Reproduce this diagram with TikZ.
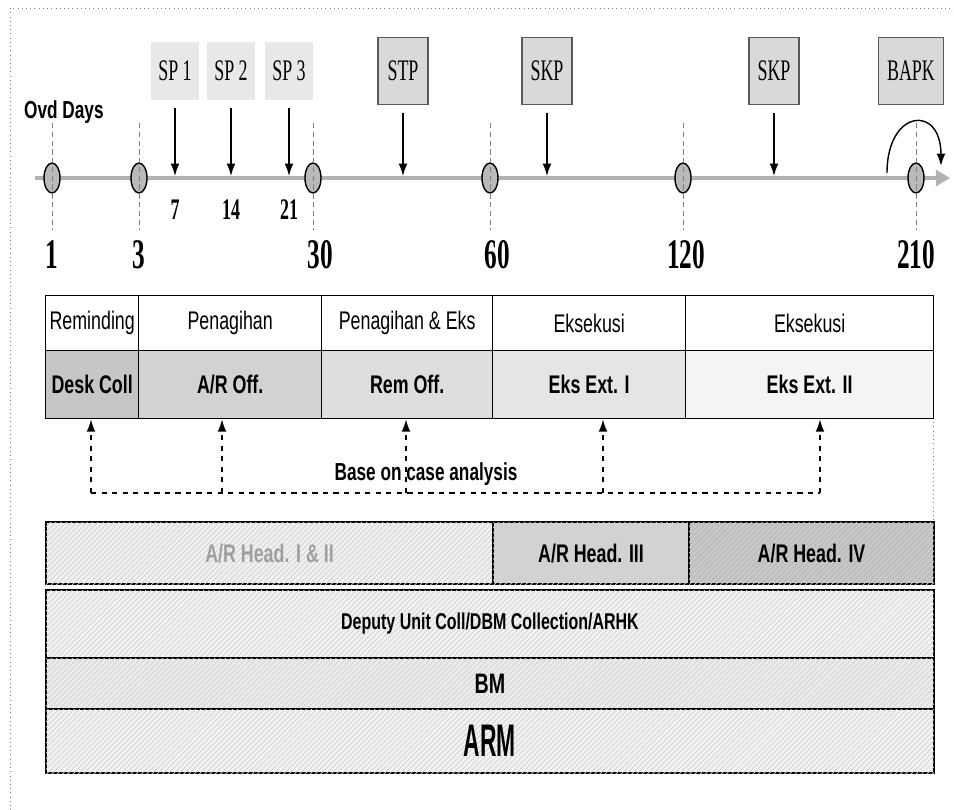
\documentclass[tikz,border=0pt]{standalone}
\usepackage{fontspec}
\setmainfont{Liberation Serif}
\setsansfont{Liberation Sans}
\newfontfamily\narrowsans[FakeStretch=0.7]{Liberation Sans}
\newfontfamily\narrowserif[FakeStretch=0.6]{Liberation Serif}
\usetikzlibrary{positioning,arrows.meta,shapes.geometric,patterns}

\begin{document}
\begin{tikzpicture}[
    x=0.02cm, y=-0.02cm,
    node distance=4mm,
    daydot/.style={ellipse, draw, thick, fill=gray!55, minimum width=0.32cm, minimum height=0.6cm, inner sep=0},
    guide/.style={densely dashed, gray},
    axis/.style={line width=2.8pt, gray!60, -{Triangle[length=8pt,width=9pt]}},
    letterbox/.style={fill=gray!18, minimum width=0.96cm, minimum height=1.16cm, inner sep=0, font=\narrowserif\fontsize{17}{20}\selectfont},
    noticebox/.style={letterbox, fill=gray!30, draw=gray!70!black, thick, minimum width=1cm, minimum height=1.34cm},
    pointer/.style={-{Latex[length=7pt,width=5pt]}, thick, shorten <=0.16cm},
    daynum/.style={font=\narrowserif\bfseries\fontsize{24}{28}\selectfont},
    smallnum/.style={font=\narrowserif\bfseries\fontsize{17}{20}\selectfont},
    cell/.style={draw, thick, anchor=north west, inner sep=0},
    headcell/.style={cell, minimum height=1.1cm, font=\narrowsans\fontsize{14.5}{16}\selectfont},
    staffcell/.style={cell, minimum height=1.36cm, font=\narrowsans\bfseries\fontsize{14.5}{16}\selectfont},
    barcell/.style={cell, very thick, font=\narrowsans\bfseries\fontsize{14.5}{16}\selectfont,
        postaction={pattern=north east lines, pattern color=gray!35}},
    caseline/.style={dashed, thick},
]

\useasboundingbox (0,0) rectangle (954,810);

% Page frame
\draw[dotted, gray] (10,810) -- (10,8) -- (954,8);
\draw[dotted, gray] (933,418) -- (933,520);

% Time axis
\coordinate (S) at (35,178);
\coordinate (E) at (950,178);
\draw[axis] (S) -- (E);

\node[font=\narrowsans\bfseries\fontsize{14}{16}\selectfont, anchor=west] (OVD) at (18,112) {Ovd Days};

% Day marks
\node[daydot] (D1) at (52,178) {};
\node[daydot] (D3) at (139,178) {};
\node[daydot] (D30) at (313,178) {};
\node[daydot] (D60) at (490,178) {};
\node[daydot] (D120) at (683,178) {};
\node[daydot] (D210) at (916,178) {};

\foreach \d in {D1,D3,D30,D60,D120,D210}
    \draw[guide] ([yshift=1.1cm]\d.center) -- ([yshift=-1.05cm]\d.center);

\node[daynum] (N1) at (52,255) {1};
\node[daynum] (N3) at (139,255) {3};
\node[daynum] (N30) at (320,255) {30};
\node[daynum] (N60) at (497,255) {60};
\node[daynum] (N120) at (686,255) {120};
\node[daynum] (N210) at (916,255) {210};

% Letters and notices
\node[letterbox] (SP1) at (175,71) {SP 1};
\node[letterbox] (SP2) at (231,71) {SP 2};
\node[letterbox] (SP3) at (289,71) {SP 3};
\node[noticebox] (STP) at (403,71) {STP};
\node[noticebox] (SKPa) at (547,71) {SKP};
\node[noticebox] (SKPb) at (774,71) {SKP};
\node[noticebox, minimum width=1.3cm] (BAPK) at (911,71) {BAPK};

\coordinate (A7) at (175,176);
\coordinate (A14) at (231,176);
\coordinate (A21) at (289,176);
\coordinate (ASTP) at (403,176);
\coordinate (ASKPa) at (547,176);
\coordinate (ASKPb) at (774,176);

\draw[pointer] (SP1) -- (A7);
\draw[pointer] (SP2) -- (A14);
\draw[pointer] (SP3) -- (A21);
\draw[pointer] (STP) -- (ASTP);
\draw[pointer] (SKPa) -- (ASKPa);
\draw[pointer] (SKPb) -- (ASKPb);

\node[smallnum, below=3.5mm of A7] (N7) {7};
\node[smallnum, below=3.5mm of A14] (N14) {14};
\node[smallnum, below=3.5mm of A21] (N21) {21};

% Loop at 210
\coordinate (La) at (887,173);
\coordinate (Lb) at (941,166);
\draw[-{Latex[length=7pt,width=5pt]}, thick] (La) .. controls +(0,-64) and +(0,-62) .. (Lb);

% Stage row
\node[headcell, minimum width=1.86cm] (H1) at (45,295) {Reminding};
\node[headcell, minimum width=3.66cm] (H2) at (138,295) {Penagihan};
\node[headcell, minimum width=3.42cm] (H3) at (321,295) {Penagihan \& Eks};
\node[headcell, minimum width=3.86cm] (H4) at (492,295) {Eksekusi};
\node[headcell, minimum width=4.96cm] (H5) at (685,295) {Eksekusi};

% Staff row
\node[staffcell, fill=gray!45, minimum width=1.86cm] (C1) at (45,350) {Desk Coll};
\node[staffcell, fill=gray!35, minimum width=3.66cm] (C2) at (138,350) {A/R Off.};
\node[staffcell, fill=gray!26, minimum width=3.42cm] (C3) at (321,350) {Rem Off.};
\node[staffcell, fill=gray!20, minimum width=3.86cm] (C4) at (492,350) {Eks Ext. I};
\node[staffcell, fill=gray!9, minimum width=4.96cm] (C5) at (685,350) {Eks Ext. II};

% Case analysis
\coordinate (B1) at (91,493);
\coordinate (B2) at (222,493);
\coordinate (B3) at (406,493);
\coordinate (B4) at (603,493);
\coordinate (B5) at (820,493);
\draw[caseline] (B1) -- (B5);
\draw[caseline, -{Latex[length=7pt,width=5pt]}] (B1) -- (B1 |- C1.south);
\draw[caseline, -{Latex[length=7pt,width=5pt]}] (B2) -- (B2 |- C2.south);
\draw[caseline, -{Latex[length=7pt,width=5pt]}] (B3) -- (B3 |- C3.south);
\draw[caseline, -{Latex[length=7pt,width=5pt]}] (B4) -- (B4 |- C4.south);
\draw[caseline, -{Latex[length=7pt,width=5pt]}] (B5) -- (B5 |- C5.south);
\node[font=\narrowsans\bfseries\fontsize{14}{16}\selectfont, inner sep=1pt] (CASE) at (426,474) {Base on case analysis};

% Heads and management
\node[barcell, fill=gray!12, text=gray!75, minimum width=8.94cm, minimum height=1.24cm] (R1) at (45,521) {A/R Head. I \& II};
\node[barcell, fill=gray!35, minimum width=3.92cm, minimum height=1.24cm] (R2) at (492,521) {A/R Head. III};
\node[barcell, fill=gray!50, minimum width=4.9cm, minimum height=1.24cm] (R3) at (688,521) {A/R Head. IV};
\node[barcell, fill=gray!10, minimum width=17.76cm, minimum height=1.36cm, font=\narrowsans\bfseries\fontsize{13}{16}\selectfont] (DEP) at (45,589) {Deputy Unit Coll/DBM Collection/ARHK};
\node[barcell, fill=gray!16, minimum width=17.76cm, minimum height=1.02cm, font=\narrowsans\bfseries\fontsize{16}{18}\selectfont] (BM) at (45,657) {BM};
\node[barcell, fill=gray!10, minimum width=17.76cm, minimum height=1.28cm, font=\narrowsans\bfseries\fontsize{26}{28}\selectfont\addfontfeature{FakeStretch=0.5}] (ARM) at (45,708) {ARM};

\end{tikzpicture}
\end{document}
